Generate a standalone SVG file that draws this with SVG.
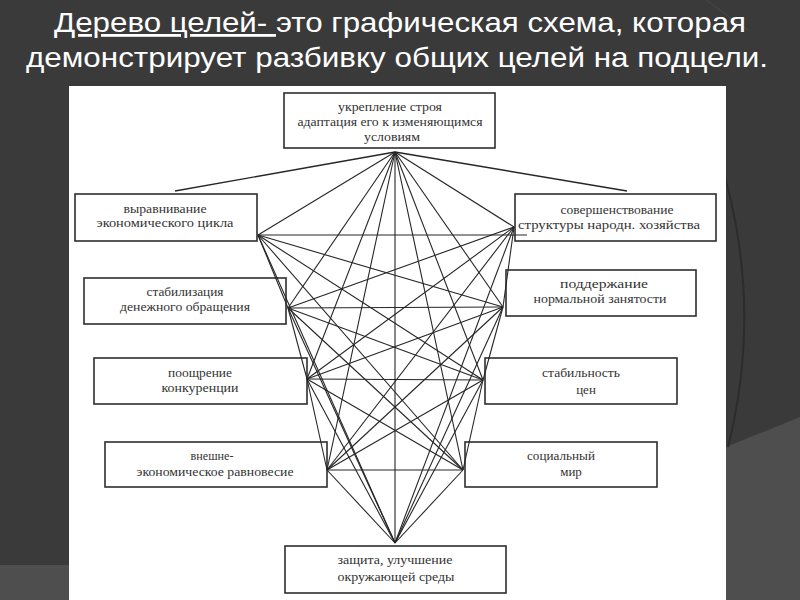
<svg xmlns="http://www.w3.org/2000/svg" width="800" height="600" viewBox="0 0 800 600">
<style>
.title{font-family:"Liberation Sans Narrow","Liberation Sans",Arial,sans-serif;font-size:28px;fill:#ffffff}
.box{fill:#ffffff;stroke:#2e2e2e;stroke-width:1.6}
.lbl{font-family:"Liberation Serif","Times New Roman",serif;font-size:13px;fill:#333333;text-anchor:middle}
.ln{stroke:#262626;stroke-width:1.1;fill:none}
</style>
<rect x="0" y="0" width="800" height="600" fill="#3a3a3a"/>
<rect x="0" y="565" width="70" height="35" fill="#4e4e4e"/>
<polygon points="726,447 800,417 800,600 726,600" fill="#4e4e4e"/>
<path d="M725,177 Q762,312 728,447" fill="none" stroke="#2c2c2c" stroke-width="2"/>
<line x1="706" y1="0" x2="748" y2="30" stroke="#4a4a4a" stroke-width="1"/>
<rect x="69" y="86" width="657" height="514" fill="#ffffff"/>
<g id="title">
<text class="title" x="54" y="32" textLength="692" lengthAdjust="spacingAndGlyphs"><tspan text-decoration="underline">Дерево целей- </tspan>это графическая схема, которая</text>
<text class="title" x="26" y="67" textLength="742" lengthAdjust="spacingAndGlyphs">демонстрирует разбивку общих целей на подцели.</text>
</g>
<g id="n-top"><rect class="box" x="284" y="93" width="211" height="55"/>
<text class="lbl" x="390" y="111" textLength="104" lengthAdjust="spacingAndGlyphs">укрепление строя</text>
<text class="lbl" x="390" y="126" textLength="185" lengthAdjust="spacingAndGlyphs">адаптация  его к изменяющимся</text>
<text class="lbl" x="392" y="141" textLength="56" lengthAdjust="spacingAndGlyphs">условиям</text></g>
<g id="n-l1"><rect class="box" x="75" y="194" width="182" height="47"/>
<text class="lbl" x="165" y="213" textLength="83" lengthAdjust="spacingAndGlyphs">выравнивание</text>
<text class="lbl" x="165" y="227" textLength="137" lengthAdjust="spacingAndGlyphs">экономического  цикла</text></g>
<g id="n-l2"><rect class="box" x="84" y="278" width="202" height="46"/>
<text class="lbl" x="185" y="296" textLength="77" lengthAdjust="spacingAndGlyphs">стабилизация</text>
<text class="lbl" x="185" y="311" textLength="130" lengthAdjust="spacingAndGlyphs">денежного  обращения</text></g>
<g id="n-l3"><rect class="box" x="94" y="358" width="213" height="46"/>
<text class="lbl" x="200" y="376.5" textLength="64" lengthAdjust="spacingAndGlyphs">поощрение</text>
<text class="lbl" x="200" y="391.5" textLength="77" lengthAdjust="spacingAndGlyphs">конкуренции</text></g>
<g id="n-l4"><rect class="box" x="105" y="442" width="222" height="45"/>
<text class="lbl" x="212" y="460" textLength="43" lengthAdjust="spacingAndGlyphs">внешне-</text>
<text class="lbl" x="215" y="476" textLength="157" lengthAdjust="spacingAndGlyphs">экономическое равновесие</text></g>
<g id="n-r1"><rect class="box" x="515" y="194" width="201" height="47"/>
<text class="lbl" x="617" y="213.5" textLength="113" lengthAdjust="spacingAndGlyphs">совершенствование</text>
<text class="lbl" x="609" y="228.5" textLength="182" lengthAdjust="spacingAndGlyphs">структуры народн.  хозяйства</text></g>
<g id="n-r2"><rect class="box" x="506" y="270" width="190" height="46"/>
<text class="lbl" x="604" y="287.5" textLength="88" lengthAdjust="spacingAndGlyphs">поддержание</text>
<text class="lbl" x="600" y="302.5" textLength="133" lengthAdjust="spacingAndGlyphs">нормальной занятости</text></g>
<g id="n-r3"><rect class="box" x="485" y="358" width="192" height="46"/>
<text class="lbl" x="581" y="377" textLength="78" lengthAdjust="spacingAndGlyphs">стабильность</text>
<text class="lbl" x="586" y="394">цен</text></g>
<g id="n-r4"><rect class="box" x="465" y="442" width="192" height="45"/>
<text class="lbl" x="561" y="460" textLength="68" lengthAdjust="spacingAndGlyphs">социальный</text>
<text class="lbl" x="571" y="476">мир</text></g>
<g id="n-bottom"><rect class="box" x="285" y="546" width="221" height="47"/>
<text class="lbl" x="395" y="564" textLength="115" lengthAdjust="spacingAndGlyphs">защита, улучшение</text>
<text class="lbl" x="396" y="581" textLength="117" lengthAdjust="spacingAndGlyphs">окружающей среды</text></g>
<g id="connectors" class="ln">
<line x1="395" y1="152" x2="175" y2="191" stroke-width="1.4"/>
<line x1="395" y1="152" x2="627" y2="191" stroke-width="1.4"/>
<line x1="395" y1="152" x2="258" y2="235"/>
<line x1="395" y1="152" x2="288" y2="308"/>
<line x1="395" y1="152" x2="307" y2="379"/>
<line x1="395" y1="152" x2="327" y2="470"/>
<line x1="395" y1="152" x2="514" y2="227"/>
<line x1="395" y1="152" x2="503" y2="307"/>
<line x1="395" y1="152" x2="483" y2="380"/>
<line x1="395" y1="152" x2="463" y2="470"/>
<line x1="395" y1="152" x2="395" y2="543"/>
<line x1="395" y1="543" x2="258" y2="235"/>
<line x1="395" y1="543" x2="288" y2="308"/>
<line x1="395" y1="543" x2="307" y2="379"/>
<line x1="395" y1="543" x2="327" y2="470"/>
<line x1="395" y1="543" x2="514" y2="227"/>
<line x1="395" y1="543" x2="503" y2="307"/>
<line x1="395" y1="543" x2="483" y2="380"/>
<line x1="395" y1="543" x2="463" y2="470"/>
<line x1="258" y1="235" x2="527" y2="235"/>
<line x1="258" y1="235" x2="503" y2="307"/>
<line x1="258" y1="235" x2="483" y2="380"/>
<line x1="258" y1="235" x2="463" y2="470"/>
<line x1="288" y1="308" x2="514" y2="227"/>
<line x1="288" y1="308" x2="503" y2="307"/>
<line x1="288" y1="308" x2="483" y2="380"/>
<line x1="288" y1="308" x2="463" y2="470"/>
<line x1="307" y1="379" x2="514" y2="227"/>
<line x1="307" y1="379" x2="503" y2="307"/>
<line x1="307" y1="379" x2="483" y2="380"/>
<line x1="307" y1="379" x2="463" y2="470"/>
<line x1="327" y1="470" x2="514" y2="227"/>
<line x1="327" y1="470" x2="503" y2="307"/>
<line x1="327" y1="470" x2="483" y2="380"/>
<line x1="327" y1="470" x2="463" y2="470"/>
<line x1="258" y1="235" x2="288" y2="308"/>
<line x1="288" y1="308" x2="307" y2="379"/>
<line x1="307" y1="379" x2="327" y2="470"/>
<line x1="514" y1="227" x2="503" y2="307"/>
<line x1="503" y1="307" x2="483" y2="380"/>
<line x1="483" y1="380" x2="463" y2="470"/>
</g>
</svg>
